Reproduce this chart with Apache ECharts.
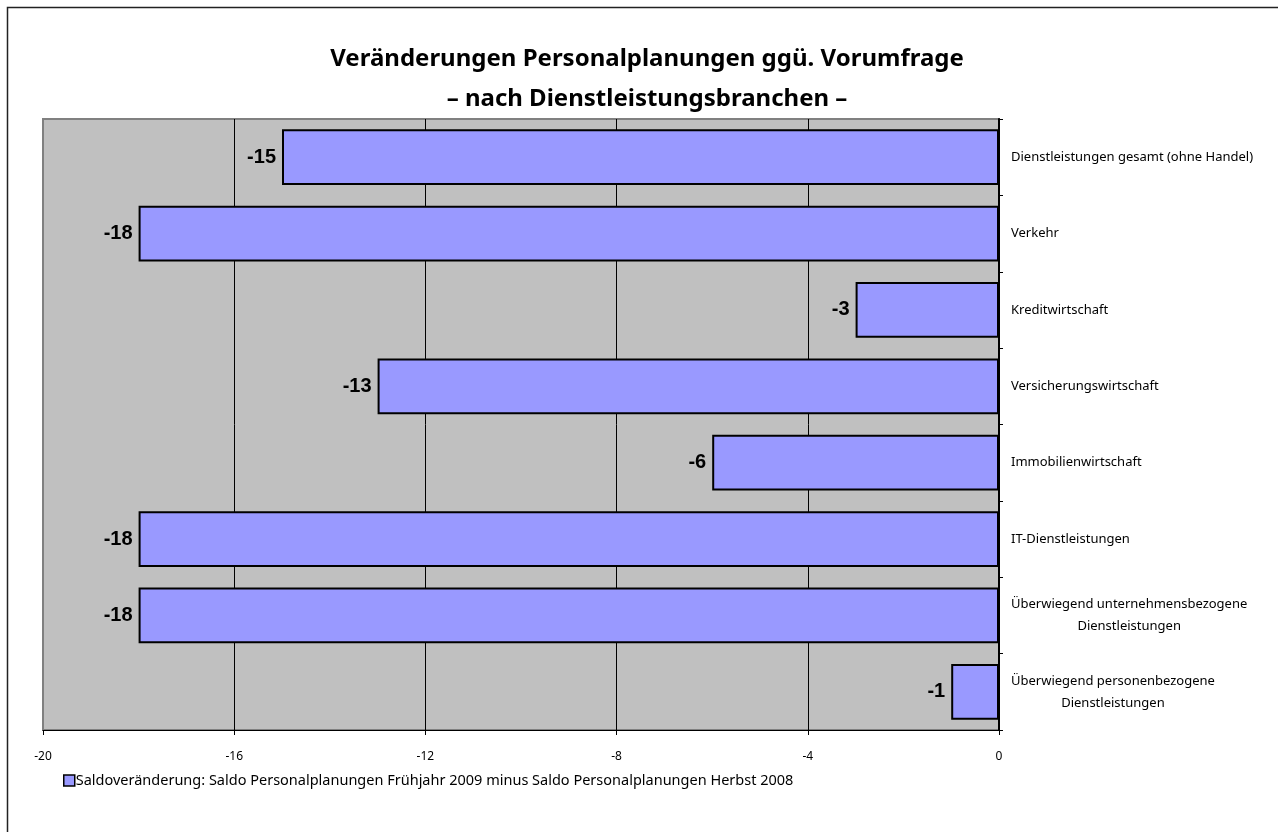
<!DOCTYPE html>
<html>
<head>
<meta charset="utf-8">
<script src="https://cdn.jsdelivr.net/npm/echarts@6/dist/echarts.min.js"></script>
<style>
html,body{margin:0;padding:0;background:#fff;}
#chart{width:1278px;height:832px;}
</style>
</head>
<body>
<div id="chart"></div>
<script>
const categories = [
  'Dienstleistungen gesamt (ohne Handel)',
  'Verkehr',
  'Kreditwirtschaft',
  'Versicherungswirtschaft',
  'Immobilienwirtschaft',
  'IT-Dienstleistungen',
  'Überwiegend unternehmensbezogene\nDienstleistungen',
  'Überwiegend personenbezogene\nDienstleistungen'
];
const values = [-15, -18, -3, -13, -6, -18, -18, -1];
const seriesName = 'Saldoveränderung: Saldo Personalplanungen Frühjahr 2009 minus Saldo Personalplanungen Herbst 2008';
const titleText = 'Veränderungen Personalplanungen ggü. Vorumfrage\n– nach Dienstleistungsbranchen –';

const chart = echarts.init(document.getElementById('chart'));
const font = 'Noto Sans';
chart.setOption({
  backgroundColor: '#fff',
  animation: false,
  title: {
    text: titleText,
    left: 642,
    top: 34,
    textAlign: 'center',
    textStyle: {fontFamily: font, fontSize: 24, fontWeight: 'bold', color: '#000', lineHeight: 40}
  },
  graphic: [{
    type: 'rect', silent: true,
    shape: {x: 7.5, y: 7.5, width: 1400, height: 1000},
    style: {fill: 'none', stroke: '#222', lineWidth: 1.5}
  }],
  legend: {
    left: 58, top: 768,
    itemWidth: 11, itemHeight: 11, itemGap: 4,
    icon: 'rect',
    textStyle: {fontFamily: font, fontSize: 14.5, color: '#000', padding: [0,0,0,-4]},
    data: [{name: seriesName, itemStyle: {borderColor: '#000', borderWidth: 1.5}}]
  },
  grid: {
    left: 43, right: 279, top: 119, bottom: 102,
    show: true, backgroundColor: '#C0C0C0', borderColor: '#808080', borderWidth: 2
  },
  xAxis: {
    type: 'value', min: -20, max: 0, interval: 4,
    axisLine: {show: true, onZero: false, lineStyle: {color: '#000', width: 1}},
    axisTick: {show: true, length: 5, lineStyle: {color: '#000'}},
    axisLabel: {margin: 21, fontFamily: font, fontSize: 12, color: '#000'},
    splitLine: {show: true, lineStyle: {color: ['#808080','#000','#000','#000','#000','#000'], width: 1}}
  },
  yAxis: {
    type: 'category', data: categories, inverse: true, position: 'right',
    axisLine: {show: true, onZero: false, lineStyle: {color: '#000', width: 2}},
    axisTick: {show: true, length: 4, lineStyle: {color: '#000'}},
    axisLabel: {
      margin: 12, fontFamily: font, fontSize: 13, color: '#000', lineHeight: 22,
      formatter: function (v) {
        const parts = v.split('\n');
        if (parts.length === 1) return '{a|' + v + '}';
        return '{a|' + parts[0] + '}\n{c|' + parts[1] + '}';
      },
      rich: {
        a: {fontFamily: font, fontSize: 13, color: '#000', lineHeight: 22, align: 'left'},
        c: {fontFamily: font, fontSize: 13, color: '#000', lineHeight: 22, align: 'center'}
      }
    },
    splitLine: {show: false}
  },
  series: [{
    name: seriesName,
    type: 'bar',
    data: values,
    barCategoryGap: '27%',
    itemStyle: {color: '#9999FF', borderColor: '#000', borderWidth: 2},
    label: {
      show: true, position: 'left', distance: 6,
      fontFamily: 'Liberation Sans', fontSize: 20, fontWeight: 'bold', color: '#000'
    }
  }]
});
</script>
</body>
</html>
